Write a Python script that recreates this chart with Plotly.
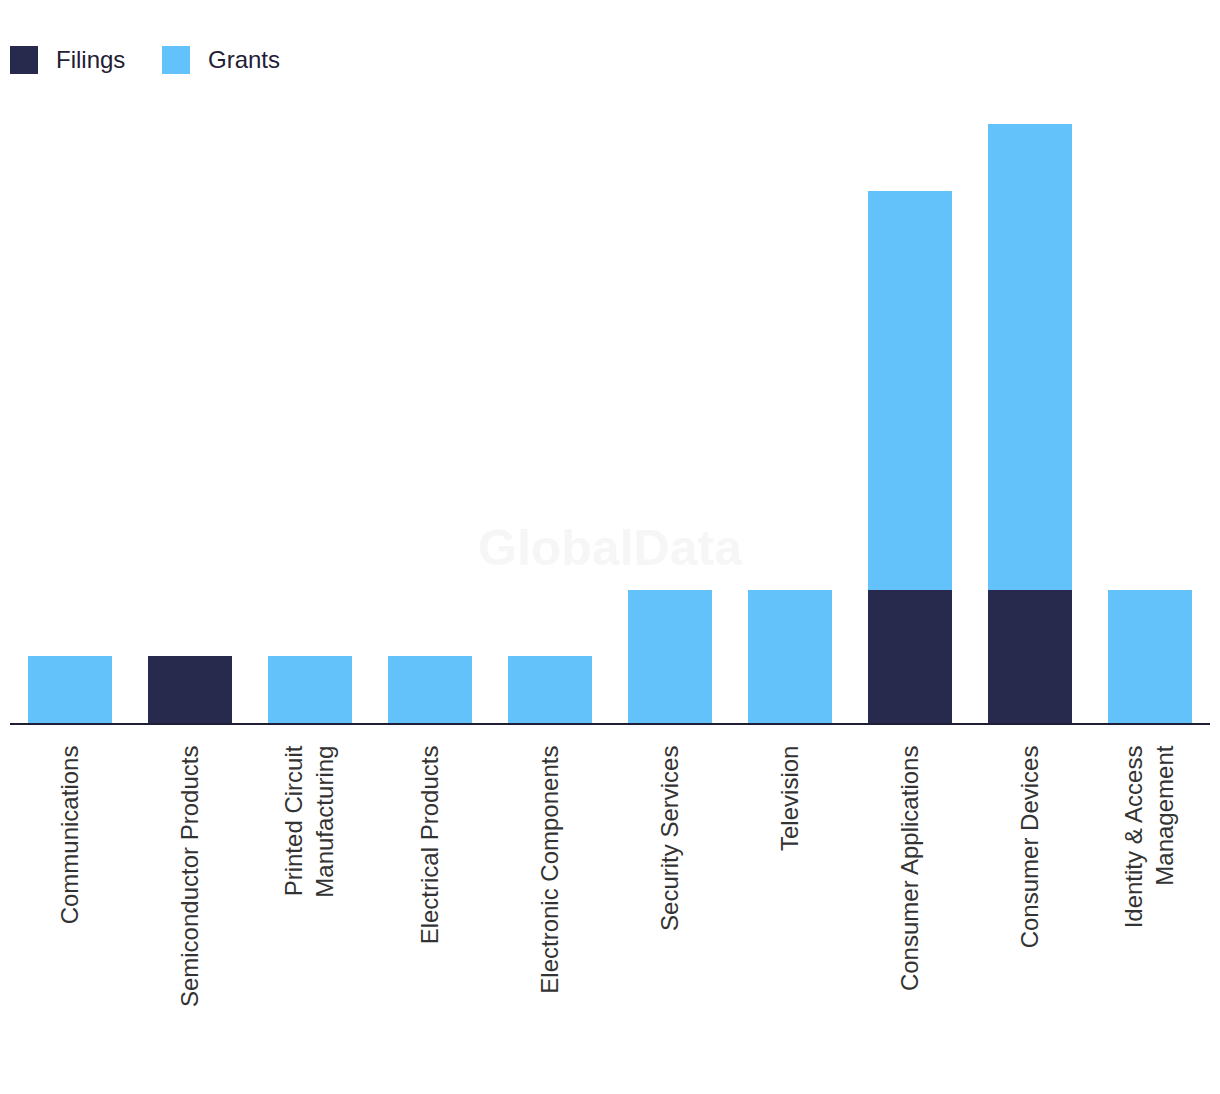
import plotly.graph_objects as go

categories = ["Communications", "Semiconductor Products", "Printed Circuit<br>Manufacturing",
              "Electrical Products", "Electronic Components", "Security Services", "Television",
              "Consumer Applications", "Consumer Devices", "Identity & Access<br>Management"]
filings = [0, 1, 0, 0, 0, 0, 0, 2, 2, 0]
grants = [1, 0, 1, 1, 1, 2, 2, 6, 7, 2]

FIL_COLOR = "#272A4D"
GRA_COLOR = "#63C2F9"
FONT = "Liberation Sans"

fig = go.Figure()
fig.add_trace(go.Bar(x=categories, y=filings, name="Filings", marker=dict(color=FIL_COLOR, line=dict(width=0))))
fig.add_trace(go.Bar(x=categories, y=grants, name="Grants", marker=dict(color=GRA_COLOR, line=dict(width=0))))

W, H = 1220, 1094
OFF = 8  # page body margin offset
L, R, T = 10 - OFF, 18, 124 - OFF
B = H - (723 - OFF)
pw = W - L - R
ph = H - T - B

def px_x(x):
    return (x - OFF - L) / pw

def px_y(y):
    return (H - B - (y - OFF)) / ph

shapes = []
annotations = []
for (x0, label, color) in [(10, "Filings", FIL_COLOR), (162, "Grants", GRA_COLOR)]:
    shapes.append(dict(type="rect", xref="paper", yref="paper",
                       x0=px_x(x0), x1=px_x(x0 + 28), y0=px_y(74), y1=px_y(46),
                       fillcolor=color, line=dict(width=0)))
    annotations.append(dict(text=label, xref="paper", yref="paper", x=px_x(x0 + 44), y=px_y(59),
                            xanchor="left", yanchor="middle", showarrow=False,
                            font=dict(family=FONT, size=24, color="#1f2035")))

annotations.append(dict(text="<b>GlobalData</b>", xref="paper", yref="paper", x=px_x(610), y=px_y(548),
                        xanchor="center", yanchor="middle", showarrow=False,
                        font=dict(family=FONT, size=50, color="#f6f6f6")))

fig.update_layout(
    width=W, height=H,
    barmode="stack", bargap=0.3,
    showlegend=False,
    margin=dict(l=L, r=R, t=T, b=B, pad=0),
    paper_bgcolor="white", plot_bgcolor="white",
    shapes=shapes, annotations=annotations,
    xaxis=dict(showline=True, linecolor="#1e1f36", linewidth=2, tickangle=-90,
               ticks="outside", ticklen=11, tickcolor="rgba(0,0,0,0)",
               tickfont=dict(family=FONT, size=24, color="#333333"), showgrid=False),
    yaxis=dict(range=[0, 9], visible=False, showgrid=False, zeroline=False),
)

fig.write_html("out.html")
